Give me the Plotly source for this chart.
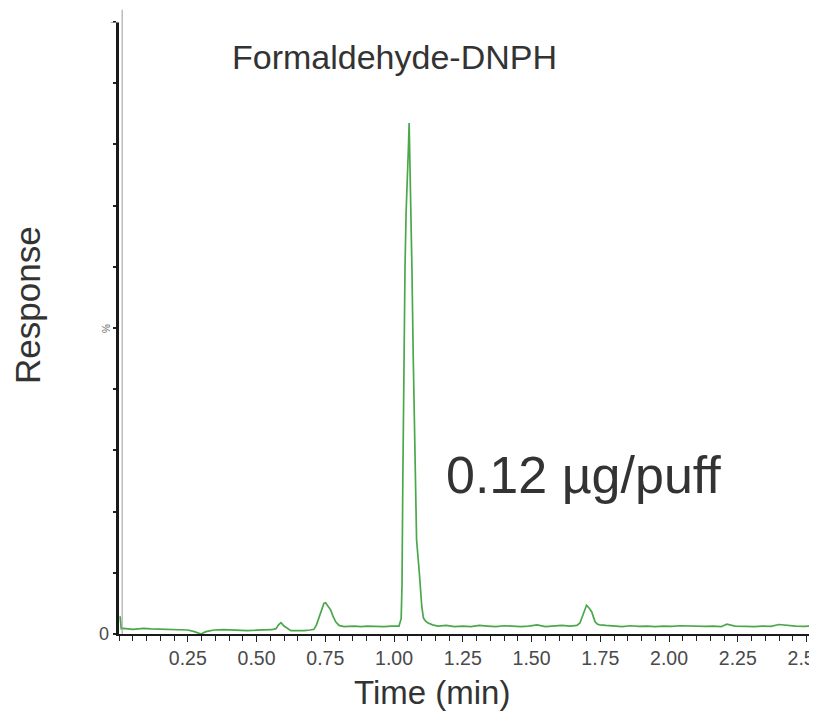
import plotly.graph_objects as go

# ---- data ----
time_min = [0.004, 0.008, 0.016, 0.03, 0.05, 0.07, 0.09, 0.115, 0.139, 0.17, 0.2, 0.225, 0.25, 0.274,
            0.298, 0.316, 0.346, 0.38, 0.407, 0.44, 0.467, 0.5, 0.528, 0.555, 0.571, 0.58, 0.589, 0.6,
            0.625, 0.65, 0.673, 0.695, 0.709, 0.718, 0.727, 0.737, 0.745, 0.751, 0.76, 0.77, 0.778,
            0.788, 0.8, 0.818, 0.835, 0.855, 0.88, 0.903, 0.93, 0.964, 0.99, 1.018, 1.026, 1.029,
            1.032, 1.036, 1.040, 1.044, 1.048, 1.052, 1.055, 1.058, 1.062, 1.065, 1.070, 1.075,
            1.082, 1.092, 1.101, 1.107, 1.115, 1.124, 1.14, 1.16, 1.19, 1.22, 1.25, 1.28, 1.31,
            1.34, 1.37, 1.40, 1.43, 1.46, 1.49, 1.52, 1.55, 1.58, 1.61, 1.64, 1.665, 1.676, 1.686,
            1.694, 1.70, 1.71, 1.719, 1.725, 1.731, 1.74, 1.749, 1.77, 1.80, 1.83, 1.86, 1.89, 1.92,
            1.95, 1.98, 2.01, 2.04, 2.07, 2.10, 2.13, 2.16, 2.19, 2.21, 2.24, 2.28, 2.31, 2.34, 2.37,
            2.40, 2.43, 2.46, 2.49, 2.52]
response_pct = [2.9, 0.9, 0.93, 0.85, 0.76, 0.85, 0.93, 0.85, 0.82, 0.8, 0.76, 0.72, 0.65, 0.38,
                0.0, 0.38, 0.65, 0.72, 0.65, 0.6, 0.54, 0.62, 0.65, 0.7, 0.87, 1.5, 1.85, 1.3,
                0.54, 0.5, 0.54, 0.65, 0.76, 1.5, 2.6, 4.0, 5.0, 5.1, 4.6, 3.9, 2.9,
                2.0, 1.4, 1.2, 1.25, 1.3, 1.2, 1.3, 1.25, 1.2, 1.3, 1.3, 2.5, 8.0,
                25, 45, 60, 69, 76, 79, 83.5, 77, 70, 60, 45, 30,
                15.4, 10, 4.5, 2.6, 2.1, 1.8, 1.5, 1.3, 1.4, 1.2, 1.3, 1.2, 1.4,
                1.3, 1.2, 1.35, 1.3, 1.2, 1.3, 1.5, 1.2, 1.3, 1.4, 1.3, 1.4, 1.8, 2.9,
                4.0, 4.7, 4.2, 3.6, 2.8, 2.0, 1.6, 1.5, 1.4, 1.3, 1.2, 1.35, 1.25, 1.3,
                1.2, 1.3, 1.25, 1.35, 1.3, 1.2, 1.25, 1.3, 1.2, 1.6, 1.3, 1.25, 1.2, 1.3, 1.25,
                1.55, 1.4, 1.3, 1.25, 1.3]
x_tick_vals = [0.25, 0.50, 0.75, 1.00, 1.25, 1.50, 1.75, 2.00, 2.25, 2.50]
x_tick_text = ["0.25", "0.50", "0.75", "1.00", "1.25", "1.50", "1.75", "2.00", "2.25", "2.50"]
y_tick_vals = [0, 10, 20, 30, 40, 50, 60, 70, 80, 90, 100]

title_text = "Formaldehyde-DNPH"
amount_text = "0.12 µg/puff"
x_title = "Time (min)"
y_title = "Response"

FONT = "Liberation Sans, Arial, sans-serif"

fig = go.Figure()
fig.add_trace(go.Scatter(x=time_min, y=response_pct, mode="lines",
                         line=dict(color="#4aa84a", width=1.7), hoverinfo="skip",
                         showlegend=False, cliponaxis=False))

# the page body adds an 8px offset, so the figure is sized/margined to compensate
fig.update_layout(
    width=809, height=704,
    margin=dict(l=111, r=0, t=14, b=78, autoexpand=False),
    paper_bgcolor="white", plot_bgcolor="white",
    font=dict(family=FONT, color="#333333"),
    xaxis=dict(range=[0, 2.538], tickvals=x_tick_vals, ticktext=x_tick_text,
               automargin=False, ticklabeloverflow="allow",
               ticks="outside", ticklen=6, tickwidth=1.2, tickcolor="#222",
               showline=True, linecolor="#1a1a1a", linewidth=2, showgrid=False, zeroline=False,
               tickfont=dict(size=19.5, color="#4a4a4a"),
               minor=dict(dtick=0.05, tick0=0, ticks="outside", ticklen=5, tickwidth=1.2,
                          tickcolor="#222", showgrid=False)),
    yaxis=dict(range=[0, 100], tickvals=y_tick_vals, showticklabels=False, automargin=False,
               ticks="outside", ticklen=3, tickwidth=1.5, tickcolor="#222",
               showline=True, linecolor="#1a1a1a", linewidth=2.5, showgrid=False, zeroline=False),
)

# grey companion line of the y axis (extends above the plot)
fig.add_shape(type="line", xref="paper", yref="paper", x0=0.0045, x1=0.0045, y0=0, y1=1.02,
              line=dict(color="#9a9a9a", width=1))
# longer grey top tick
fig.add_shape(type="line", xref="paper", yref="y", x0=-0.012, x1=0.0, y0=100, y1=100,
              line=dict(color="#9a9a9a", width=1.5))

fig.add_annotation(text="0", xref="paper", yref="y", x=-0.011, y=0, xanchor="right",
                   yanchor="middle", showarrow=False, font=dict(size=18, color="#4a4a4a"))
fig.add_annotation(text="%", xref="paper", yref="y", x=-0.008, y=50, xanchor="right",
                   yanchor="middle", showarrow=False, textangle=-90,
                   font=dict(size=10, color="#666666"))
fig.add_annotation(text=title_text, xref="paper", yref="paper", x=0.394, y=0.942,
                   xanchor="center", yanchor="middle", showarrow=False,
                   font=dict(size=34, color="#333333"))
fig.add_annotation(text=amount_text, xref="paper", yref="paper", x=0.6655, y=0.26,
                   xanchor="center", yanchor="middle", showarrow=False,
                   font=dict(size=52, color="#333333"))
# axis titles placed in pixel terms relative to the plot area
fig.add_annotation(text=x_title, xref="paper", yref="paper", x=(432 - 119) / 698, y=-58 / 612,
                   xanchor="center", yanchor="middle", showarrow=False,
                   font=dict(size=33, color="#333333"))
fig.add_annotation(text=y_title, xref="paper", yref="paper", x=-92 / 698, y=(634 - 305) / 612,
                   xanchor="center", yanchor="middle", showarrow=False, textangle=-90,
                   font=dict(size=35, color="#333333"))

fig.write_html("out.html")
